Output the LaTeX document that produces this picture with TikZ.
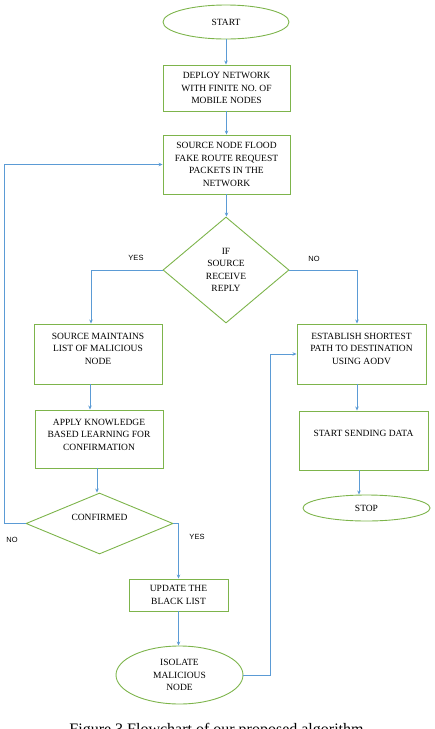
\documentclass[tikz,border=0pt]{standalone}
\usepackage{fontspec}
\setmainfont{Liberation Serif}
\newfontfamily\lblfont{Liberation Sans}
\usetikzlibrary{shapes.geometric,arrows.meta}
\definecolor{gr}{RGB}{125,180,75}
\definecolor{bl}{RGB}{91,155,213}
\newcommand{\toptext}[4]{\parbox[c][#2][t]{#1}{\centering\vspace*{#3}#4}}
\begin{document}
\begin{tikzpicture}[x=1pt,y=-1pt,
  txt/.style={font=\fontsize{9.5}{12.5}\selectfont},
  box/.style={txt,draw=gr,line width=0.9pt,rectangle,inner sep=0pt,align=center},
  oval/.style={txt,draw=gr,line width=0.9pt,ellipse,inner sep=0pt,align=center},
  dec/.style={txt,draw=gr,line width=0.9pt,diamond,inner sep=0pt,align=center},
  arr/.style={draw=bl,line width=0.8pt,-{Stealth[length=4pt,width=3.5pt]}},
  lbl/.style={font=\lblfont\fontsize{7.5}{9}\selectfont}]
\useasboundingbox (0,0) rectangle (435,729);
\clip (0,0) rectangle (435,729);

\node[oval,minimum width=126pt,minimum height=34pt] (start) at (226,22) {START};
\node[box,minimum width=127pt,minimum height=46pt] (deploy) at (226.5,88) {DEPLOY NETWORK\\WITH FINITE NO. OF\\MOBILE NODES};
\node[box,minimum width=127pt,minimum height=59pt] (flood) at (226.5,164.5) {SOURCE NODE FLOOD\\FAKE ROUTE REQUEST\\PACKETS IN THE\\NETWORK};
\node[dec,minimum width=126pt,minimum height=106pt] (d1) at (226,270) {IF\\SOURCE\\RECEIVE\\REPLY};
\node[box] (maint) at (98,354) {\toptext{128pt}{60pt}{9pt}{SOURCE MAINTAINS\\LIST OF MALICIOUS\\NODE}};
\node[box] (apply) at (99,439) {\toptext{128pt}{58pt}{9pt}{APPLY KNOWLEDGE\\BASED LEARNING FOR\\CONFIRMATION}};
\node[dec,aspect=2.4,minimum width=147pt,minimum height=61pt] (conf) at (99.5,523.5) {\raisebox{3pt}[0pt][0pt]{CONFIRMED}};
\node[box,minimum width=99pt,minimum height=32pt] (update) at (178.5,595) {UPDATE THE\\BLACK LIST};
\node[oval,minimum width=127pt,minimum height=58pt] (isolate) at (179.5,675) {ISOLATE\\MALICIOUS\\NODE};
\node[box] (estab) at (361.5,354) {\toptext{129pt}{60pt}{9pt}{ESTABLISH SHORTEST\\PATH TO DESTINATION\\USING AODV}};
\node[box] (send) at (363.5,440.5) {\toptext{129pt}{59pt}{19pt}{START SENDING DATA}};
\node[oval,minimum width=127pt,minimum height=26pt] (stop) at (366.5,508) {STOP};

\node[lbl] (yes1) at (136,258) {YES};
\node[lbl] (no1) at (314,259) {NO};
\node[lbl] (no2) at (12,540) {NO};
\node[lbl] (yes2) at (197,537) {YES};

\draw[arr] (start.south) -- (start.south |- deploy.north);
\draw[arr] (deploy.south) -- (deploy.south |- flood.north);
\draw[arr] (flood.south) -- (flood.south |- d1.north);
\draw[arr] (d1.west) -| ([xshift=-7pt]maint.north);
\draw[arr] (d1.east) -| ([xshift=-4.5pt]estab.north);
\draw[arr] ([xshift=-8pt]maint.south) -- ([xshift=-8pt]maint.south |- apply.north);
\draw[arr] ([xshift=-2pt]apply.south) -- ([xshift=-2pt]apply.south |- conf.north);
\draw[arr] (conf.east) -| (update.north);
\draw[arr] (update.south) -- (update.south |- isolate.north);
\draw[arr] (isolate.east) -- ++(27,0) |- (estab.west);
\draw[arr] (conf.west) -- ++(-21,0) |- (flood.west);
\draw[arr] ([xshift=-4.5pt]estab.south) -- ([xshift=-4.5pt]estab.south |- send.north);
\draw[arr] ([xshift=-4.5pt]send.south) -- ([xshift=-4.5pt]send.south |- stop.north);

\node[font=\fontsize{16}{19}\selectfont,anchor=base] (cap) at (216.5,734) {Figure 3 Flowchart of our proposed algorithm};
\end{tikzpicture}
\end{document}
